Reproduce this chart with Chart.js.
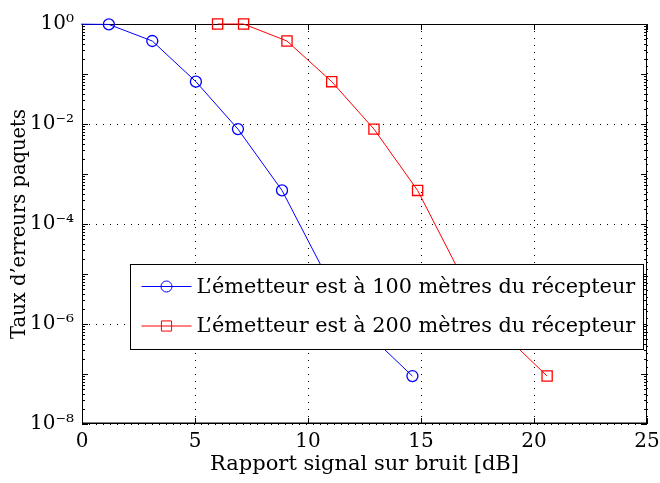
<!DOCTYPE html>
<html>
<head>
<meta charset="utf-8">
<script src="https://cdn.jsdelivr.net/npm/chart.js@4.4.1/dist/chart.umd.min.js"></script>
<style>
html,body{margin:0;padding:0;background:#fff;}
#wrap{width:660px;height:483px;position:relative;}
</style>
</head>
<body>
<div id="wrap"><canvas id="c" width="660" height="483"></canvas></div>
<script>
// ---- data ----
const snr100 = [-0.75, 1.19, 3.11, 5.04, 6.9, 8.85, 10.77, 12.7, 14.62];
const per100 = [1, 0.98, 0.457, 0.0703, 0.0079, 4.7e-4, 1.0e-5, 6.1e-7, 9.1e-8];
const snr200 = [6.0, 7.15, 9.07, 11.05, 12.92, 14.85, 16.75, 18.68, 20.58];
const per200 = [1, 1, 0.457, 0.0703, 0.0079, 4.7e-4, 1.0e-5, 6.1e-7, 9.1e-8];
const label100 = "L\u2019émetteur est à 100 mètres du récepteur";
const label200 = "L\u2019émetteur est à 200 mètres du récepteur";
const xTicks = [0, 5, 10, 15, 20, 25];
const yTicks = [1e-8, 1e-6, 1e-4, 1e-2, 1];
const yTickLabels = ["10\u207B\u2078", "10\u207B\u2076", "10\u207B\u2074", "10\u207B\u00B2", "10\u2070"];
const xTitle = "Rapport signal sur bruit [dB]";
const yTitle = "Taux d\u2019erreurs paquets";

const FONT = "'DejaVu Serif', serif";
const FS_TICK = 20, FS_LEG = 20.8, FS_XT = 21, FS_YT = 19.5;

const toPts = (xs, ys) => xs.map((x, i) => ({x: x, y: ys[i]}));

const framePlugin = {
  id: 'frame',
  beforeDatasetsDraw(chart) {
    const {ctx, chartArea: a} = chart;
    ctx.save();
    ctx.strokeStyle = '#000';
    ctx.lineWidth = 1;
    ctx.strokeRect(a.left + 0.5, a.top + 0.5, a.right - a.left - 1, a.bottom - a.top - 1);
    ctx.lineWidth = 1.5;
    ctx.beginPath(); ctx.moveTo(a.left, a.bottom - 0.75); ctx.lineTo(a.right, a.bottom - 0.75); ctx.stroke();
    ctx.lineWidth = 1;
    const xs = chart.scales.x, ys = chart.scales.y;
    xTicks.forEach(v => {
      const px = Math.round(xs.getPixelForValue(v)) + 0.5;
      ctx.beginPath(); ctx.moveTo(px, a.bottom); ctx.lineTo(px, a.bottom - 6);
      ctx.moveTo(px, a.top); ctx.lineTo(px, a.top + 6); ctx.stroke();
    });
    for (let e = -8; e <= 0; e++) {
      for (let m = 1; m < 10; m++) {
        const v = m * Math.pow(10, e);
        if (v > 1) break;
        const py = Math.round(ys.getPixelForValue(v)) + 0.5;
        const len = m === 1 ? 6 : 3;
        ctx.beginPath(); ctx.moveTo(a.left, py); ctx.lineTo(a.left + len, py);
        ctx.moveTo(a.right, py); ctx.lineTo(a.right - len, py); ctx.stroke();
      }
    }
    ctx.restore();
  },
  afterDraw(chart) {
    const {ctx, chartArea: a} = chart;
    const bx = a.left + 48.5, by = a.top + 240.5, bw = a.right - 4 - (a.left + 48), bh = 85;
    ctx.save();
    ctx.fillStyle = '#fff';
    ctx.fillRect(bx, by, bw, bh);
    ctx.strokeStyle = '#000';
    ctx.lineWidth = 1;
    ctx.strokeRect(bx, by, bw, bh);
    chart.data.datasets.forEach((ds, i) => {
      const cy = by + 22 + i * 39.5;
      ctx.strokeStyle = ds.borderColor;
      ctx.lineWidth = ds.borderWidth;
      ctx.beginPath(); ctx.moveTo(bx + 11, cy); ctx.lineTo(bx + 61, cy); ctx.stroke();
      ctx.fillStyle = 'rgba(0,0,0,0)';
      Chart.helpers.drawPoint(ctx, {
        pointStyle: ds.pointStyle, radius: ds.pointRadius, rotation: 0,
        borderWidth: ds.pointBorderWidth, borderColor: ds.borderColor
      }, bx + 36, cy);
      ctx.fillStyle = '#000';
      ctx.font = FS_LEG + 'px ' + FONT;
      ctx.textBaseline = 'middle';
      ctx.textAlign = 'left';
      ctx.fillText(ds.label, bx + 66, cy + 1);
    });
    ctx.restore();
  }
};

const dsClip = {left: 1, top: 12, right: 12, bottom: 12};

new Chart(document.getElementById('c'), {
  type: 'line',
  data: {
    datasets: [
      {label: label100, data: toPts(snr100, per100), borderColor: '#0000ff', backgroundColor: 'rgba(0,0,0,0)',
       borderWidth: 1, pointStyle: 'circle', pointRadius: 5.5, pointBorderWidth: 1.3, pointBackgroundColor: 'rgba(0,0,0,0)', tension: 0, clip: dsClip},
      {label: label200, data: toPts(snr200, per200), borderColor: '#ff0000', backgroundColor: 'rgba(0,0,0,0)',
       borderWidth: 1, pointStyle: 'rect', pointRadius: 7.2, pointBorderWidth: 1.3, pointBackgroundColor: 'rgba(0,0,0,0)', tension: 0, clip: dsClip}
    ]
  },
  options: {
    responsive: false,
    animation: false,
    layout: {padding: {top: 24, right: 13, left: 0, bottom: 0}},
    plugins: {legend: {display: false}, tooltip: {enabled: false}},
    scales: {
      x: {
        type: 'linear', min: 0, max: 25,
        afterBuildTicks(s) { s.ticks = xTicks.map(v => ({value: v})); },
        afterFit(s) { s.height = 59; s.paddingLeft = 0; s.paddingRight = 0; },
        ticks: {font: {family: FONT, size: FS_TICK}, color: '#000', padding: 6, maxRotation: 0},
        grid: {color: '#000', lineWidth: 1, drawTicks: false},
        border: {display: false, dash: [1, 6]},
        title: {display: true, text: xTitle, font: {family: FONT, size: FS_XT}, color: '#000', padding: {top: 0, bottom: 6}}
      },
      y: {
        type: 'logarithmic', min: 1e-8, max: 1,
        afterBuildTicks(s) { s.ticks = yTicks.map(v => ({value: v})); },
        afterFit(s) { s.width = 82; s.paddingTop = 0; s.paddingBottom = 0; },
        ticks: {font: {family: FONT, size: FS_TICK}, color: '#000', padding: 8,
          callback: (v) => { const i = yTicks.findIndex(t => Math.abs(Math.log10(t) - Math.log10(v)) < 1e-6); return i >= 0 ? yTickLabels[i] : ''; }},
        grid: {color: '#000', lineWidth: 1, drawTicks: false},
        border: {display: false, dash: [1, 6]},
        title: {display: true, text: yTitle, font: {family: FONT, size: FS_YT}, color: '#000', padding: {top: 8, bottom: 0}}
      }
    }
  },
  plugins: [framePlugin]
});
</script>
</body>
</html>
